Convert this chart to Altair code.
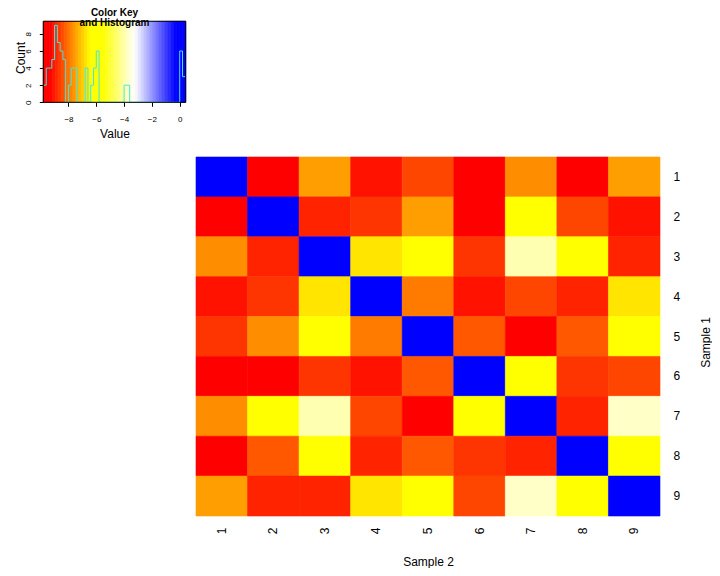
import altair as alt
import numpy as np
import pandas as pd

FONT = "Liberation Sans"

# ---------------- data ----------------
samples = ["1", "2", "3", "4", "5", "6", "7", "8", "9"]
row1 = [0.1, -9.7, -7.5, -9.1, -8.5, -9.5, -7.7, -9.5, -7.5]
row2 = [-9.7, 0.1, -8.9, -8.7, -7.5, -9.3, -6.1, -8.5, -9.1]
row3 = [-7.7, -8.9, 0.1, -6.7, -6.3, -8.7, -3.9, -5.9, -8.9]
row4 = [-9.1, -8.7, -6.7, 0.1, -7.9, -9.1, -8.5, -8.9, -6.7]
row5 = [-8.7, -7.7, -6.3, -7.9, 0.1, -8.3, -9.3, -8.3, -5.9]
row6 = [-9.5, -9.3, -8.7, -9.1, -8.3, 0.1, -6.1, -8.7, -8.5]
row7 = [-7.7, -6.1, -3.9, -8.5, -9.3, -6.1, 0.3, -8.9, -3.7]
row8 = [-9.5, -8.3, -5.9, -8.9, -8.3, -8.7, -8.9, 0.3, -5.9]
row9 = [-7.5, -8.9, -8.9, -6.7, -5.9, -8.5, -3.7, -5.9, 0.3]
matrix = [row1, row2, row3, row4, row5, row6, row7, row8, row9]

key_min, key_max = -9.81, 0.43
color_stops = [-9.81, -9.3, -6.4, -5.5, -3.2, -0.25, 0.43]
color_range = ["#FF0000", "#FF0000", "#FFFF00", "#FFFF00", "#FFFFFF", "#0000FF", "#0000FF"]
hist_step = 0.2
count_ticks = [0, 2, 4, 6, 8]
value_ticks = [-8, -6, -4, -2, 0]

# ---------------- tables ----------------
heat_df = pd.DataFrame(
    [{"s1": samples[i], "s2": samples[j], "v": matrix[i][j]}
     for i in range(len(samples)) for j in range(len(samples))]
)
edges = np.round(np.arange(-9.8, 0.4 + 1e-9, hist_step), 2)
counts, _ = np.histogram(heat_df["v"].to_numpy(), bins=edges)
hist_df = pd.DataFrame({"edge": edges, "count": list(counts) + [counts[-1]]})
key_edges = np.linspace(key_min, key_max, 49)
key_df = pd.DataFrame({"lo": key_edges[:-1], "hi": key_edges[1:],
                       "mid": (key_edges[:-1] + key_edges[1:]) / 2})

# ---------------- geometry (chart pixels) ----------------
W, H = 704, 560
HX0, HX1, HY0, HY1 = 188, 652, 149, 508
KX0, KX1, KY0, KY1 = 35.3, 177.7, 13.3, 94.3
KCX = (KX0 + KX1) / 2

color_scale = alt.Scale(domain=color_stops, range=color_range, interpolate="rgb")

heat = alt.Chart(heat_df).mark_rect(strokeWidth=0.6).encode(
    x=alt.X("s2:O", sort=samples,
            scale=alt.Scale(range=[HX0, HX1], paddingInner=0, paddingOuter=0),
            axis=alt.Axis(orient="bottom", offset=HY1 - H, ticks=False, domain=False,
                          labelAngle=270, labelPadding=11, labelFontSize=12, labelFont=FONT,
                          labelColor="black", title="Sample 2", titleFont=FONT, titleFontSize=12,
                          titleFontWeight="normal", titleColor="black",
                          titleX=(HX0 + HX1) / 2, titleY=45, titleAlign="center",
                          titleBaseline="middle")),
    y=alt.Y("s1:O", sort=samples,
            scale=alt.Scale(range=[HY0, HY1], paddingInner=0, paddingOuter=0),
            axis=alt.Axis(orient="right", offset=HX1 - W, ticks=False, domain=False,
                          labelPadding=13, labelFontSize=12, labelFont=FONT, labelColor="black",
                          title="Sample 1", titleFont=FONT, titleFontSize=12,
                          titleFontWeight="normal", titleColor="black", titleAngle=270,
                          titleX=45, titleY=334, titleAlign="center", titleBaseline="middle")),
    color=alt.Color("v:Q", scale=color_scale, legend=None),
    stroke=alt.Stroke("v:Q", scale=color_scale, legend=None),
)

bands = alt.Chart(key_df).mark_rect(strokeWidth=0.8).encode(
    x=alt.X("lo:Q", scale=alt.Scale(domain=[key_min, key_max], range=[KX0, KX1], nice=False, zero=False),
            axis=None),
    x2="hi:Q",
    y=alt.value(KY0),
    y2=alt.value(KY1),
    color=alt.Color("mid:Q", scale=color_scale, legend=None),
    stroke=alt.Stroke("mid:Q", scale=color_scale, legend=None),
)

hist = alt.Chart(hist_df).mark_line(interpolate="step-after", color="#40E8E0", strokeWidth=1).encode(
    x=alt.X("edge:Q",
            scale=alt.Scale(domain=[key_min, key_max], range=[KX0, KX1], nice=False, zero=False),
            axis=alt.Axis(orient="bottom", offset=KY1 - H, values=value_ticks, tickSize=4,
                          tickColor="black", domain=False, grid=False, labelFontSize=8,
                          labelFont=FONT, labelColor="black", labelPadding=9, labelOverlap=False,
                          labelFlush=False, title="Value", titleFont=FONT, titleFontSize=12,
                          titleFontWeight="normal", titleColor="black", titleX=KCX, titleY=31,
                          titleAlign="center", titleBaseline="middle")),
    y=alt.Y("count:Q",
            scale=alt.Scale(domain=[0, 9 / 0.95], range=[KY1, KY0], nice=False, zero=False),
            axis=alt.Axis(orient="left", offset=-KX0, values=count_ticks, tickSize=4,
                          tickColor="black", domain=False, grid=False, labelFontSize=8,
                          labelFont=FONT, labelColor="black", labelAngle=270, labelAlign="center",
                          labelBaseline="bottom", labelPadding=7, labelOverlap=False,
                          labelFlush=False, title="Count", titleFont=FONT, titleFontSize=12,
                          titleFontWeight="normal", titleColor="black", titleAngle=270,
                          titleX=12 - KX0, titleY=49.5, titleAlign="center",
                          titleBaseline="middle")),
    order="edge:Q",
)

box = alt.Chart(pd.DataFrame({"k": [0]})).mark_rect(
    fill="transparent", stroke="black", strokeWidth=1
).encode(x=alt.value(KX0), x2=alt.value(KX1), y=alt.value(KY0), y2=alt.value(KY1))

title = alt.Chart(pd.DataFrame({"k": [0]})).mark_text(
    text=["Color Key", "and Histogram"], font=FONT, fontWeight="bold", fontSize=10,
    lineHeight=10, align="center", baseline="top", color="black"
).encode(x=alt.value(KCX), y=alt.value(-0.5))

chart = alt.layer(heat, bands, hist, box, title).resolve_scale(
    x="independent", y="independent", color="independent", stroke="independent"
).properties(
    width=W, height=H, padding=0, autosize=alt.AutoSizeParams(type="none")
).configure_view(strokeWidth=0)

chart.save("out.html", embed_options={"renderer": "svg", "actions": False})
